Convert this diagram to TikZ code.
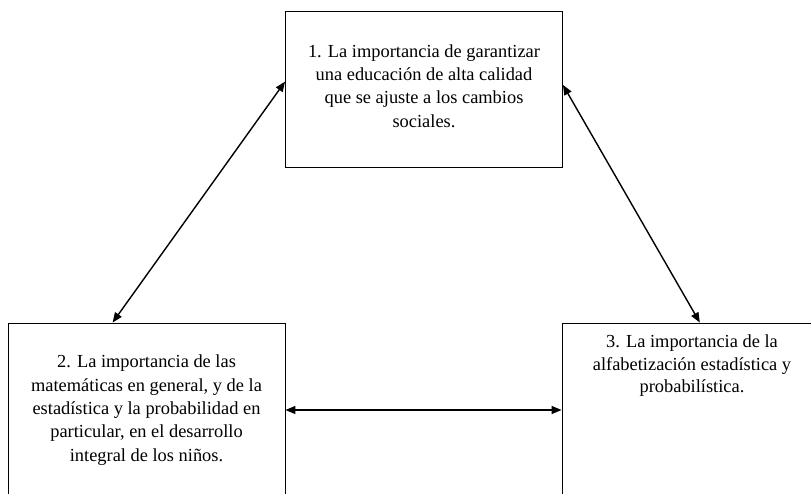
\documentclass[tikz,border=0pt]{standalone}
\usepackage{fontspec}
\setmainfont{Liberation Serif}
\usetikzlibrary{arrows.meta,calc}

\begin{document}
\begin{tikzpicture}[x=1pt,y=-1pt]
%%%%%%%%%%%%%%%%%%%%%%%%%%%%%%%%%%%%%%%%%%%%%%%%%%%%%%%%%%%%%%
%styles
\tikzstyle{topic}=[rectangle,draw=black,line width=0.9pt,inner sep=0pt,align=center,font=\fontsize{18.4}{23.3}\selectfont]
\tikzstyle{link}=[{Triangle[length=10pt,width=8pt]}-{Triangle[length=10pt,width=8pt]},line width=1.4pt]
\useasboundingbox (0,0) rectangle (811,493);
%nodes
\node[topic,minimum width=277,minimum height=156] (calidad) at (424,89)
  {1. La importancia de garantizar\\una educación de alta calidad\\que se ajuste a los cambios\\sociales.\\[-17pt]\mbox{}};
\node[topic,minimum width=277,minimum height=174] (matematicas) at (146.5,410)
  {2. La importancia de las\\matemáticas en general, y de la\\estadística y la probabilidad en\\particular, en el desarrollo\\integral de los niños.};
\node[topic,minimum width=260,minimum height=174,
  label={[anchor=north,align=center,yshift=-9pt,font=\fontsize{18.4}{22.3}\selectfont]north:3. La importancia de la\\alfabetización estadística y\\probabilística.}] (alfabetizacion) at (692,410) {};
%%%%%%%%%%%%%%%%%%%%%%%%%%%%%%%%%%%%%%%%%%%%%%%%%%%%%%%%%%%%%%
%ARROWS
\draw[link] ($(matematicas.north west)!0.378!(matematicas.north east)$) -- ($(calidad.north west)!0.453!(calidad.south west)$);
\draw[link] ($(alfabetizacion.north west)!0.53!(alfabetizacion.north east)$) -- ($(calidad.north east)!0.474!(calidad.south east)$);
\draw[link] (matematicas.east) -- (alfabetizacion.west);
\end{tikzpicture}
\end{document}
